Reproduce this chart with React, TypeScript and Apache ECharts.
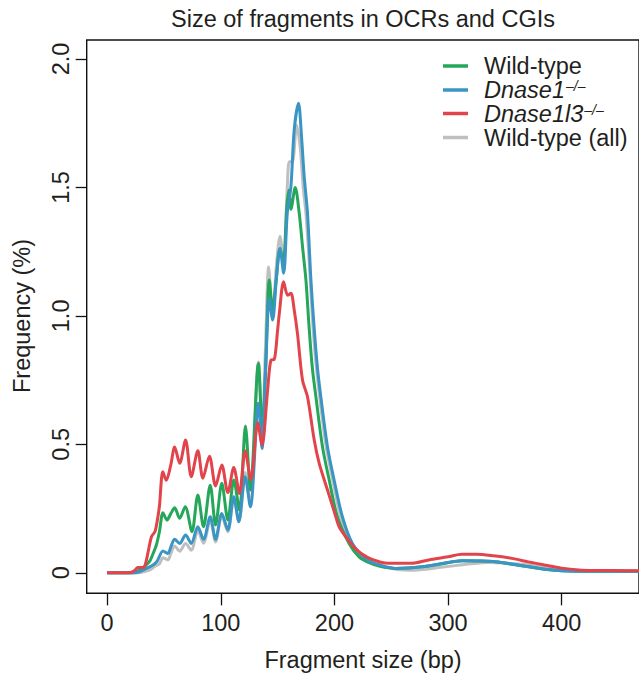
import React, { useEffect, useRef } from "react";
import * as echarts from "echarts";

// ---- data (fragment size in bp, frequency in %) ----
const wildType: [number, number][] = [
  [0, 0], [22, 0], [26, 0.005], [29, 0.012], [33, 0.025], [37.5, 0.045], [40, 0.07], [43.3, 0.108], [46, 0.16],
  [49.1, 0.234], [52.6, 0.205], [56, 0.23], [59.4, 0.253], [63.8, 0.212], [68.7, 0.257], [74.6, 0.16],
  [79.8, 0.303], [84.8, 0.179], [90.7, 0.341], [95.4, 0.186], [100.9, 0.348], [106.2, 0.205], [111.4, 0.361],
  [116.4, 0.244], [121.7, 0.571], [126, 0.322], [133.1, 0.815], [136.5, 0.55], [139.5, 0.8], [142.7, 1.14],
  [145.6, 1.023], [148.5, 1.13], [152, 1.26], [155, 1.21], [158, 1.42], [160, 1.49], [161.7, 1.415],
  [165.5, 1.5], [169, 1.4], [171.9, 1.27], [174.9, 1.14], [177.8, 0.95], [180.5, 0.8], [183.7, 0.685],
  [189.5, 0.49], [195.4, 0.361], [202.6, 0.218], [212.9, 0.114], [221.7, 0.062], [230, 0.04], [240, 0.025],
  [254, 0.017], [277, 0.023], [295, 0.035], [312, 0.047], [330, 0.046], [342, 0.043], [356, 0.033],
  [371, 0.023], [385, 0.014], [400, 0.008], [430, 0.006], [470, 0.006],
];

const dnase1: [number, number][] = [
  [0, 0], [25, 0], [31.6, 0.01], [36, 0.02], [40.4, 0.03], [44, 0.045], [49.1, 0.085], [53.5, 0.075],
  [56, 0.1], [59.4, 0.13], [63.8, 0.114], [69, 0.147], [74, 0.114], [79.8, 0.179], [84.8, 0.13],
  [90.7, 0.218], [95.4, 0.13], [100.9, 0.231], [106.2, 0.166], [111.4, 0.296], [115.8, 0.199],
  [121.4, 0.374], [126, 0.257], [133.1, 0.66], [136.3, 0.484], [139.5, 0.8], [142.7, 1.068],
  [145.6, 0.984], [149, 1.15], [152.1, 1.263], [155.3, 1.166], [158.5, 1.4], [161.7, 1.503],
  [164.6, 1.724], [168.4, 1.828], [171, 1.7], [173.4, 1.542], [176.3, 1.4], [179.3, 1.14], [182.2, 0.95],
  [185, 0.8], [188, 0.685], [193.9, 0.49], [199.7, 0.361], [207, 0.218], [215.8, 0.114], [229, 0.05],
  [240, 0.03], [253.9, 0.017], [277, 0.023], [295, 0.036], [312.3, 0.047], [330, 0.046], [341.6, 0.043],
  [356, 0.034], [370.8, 0.023], [385, 0.014], [400, 0.008], [430, 0.006], [470, 0.006],
];

const dnase1l3: [number, number][] = [
  [0, 0], [20, 0], [24, 0.008], [27, 0.02], [30, 0.02], [33, 0.025], [36, 0.08], [39, 0.14], [42, 0.16],
  [44, 0.2], [46, 0.26], [49, 0.393], [52, 0.36], [56, 0.42], [59.4, 0.49], [63.8, 0.426], [69, 0.517],
  [74, 0.374], [79.8, 0.475], [84.2, 0.368], [90, 0.454], [95.4, 0.338], [100.9, 0.419], [106.2, 0.312],
  [111.4, 0.41], [116.4, 0.309], [121.4, 0.474], [126.5, 0.362], [132.5, 0.584], [136.3, 0.497],
  [141.2, 0.711], [144.2, 0.828], [147, 0.83], [150, 0.945], [151.5, 1.01], [155.3, 1.133], [158.8, 1.08],
  [161.7, 1.088], [164.6, 1.023], [167.5, 0.93], [171.9, 0.75], [176.3, 0.685], [182.2, 0.517],
  [186.6, 0.426], [193.9, 0.322], [201.2, 0.218], [204, 0.18], [210, 0.14], [218.8, 0.092], [229, 0.06],
  [240, 0.042], [248, 0.037], [268, 0.037], [283, 0.05], [300, 0.062], [312, 0.072], [325, 0.072],
  [340, 0.066], [356, 0.056], [370, 0.043], [385, 0.03], [400, 0.018], [415, 0.011], [430, 0.009],
  [458, 0.008], [470, 0.008],
];

const wildTypeAll: [number, number][] = [
  [0, 0], [28, 0], [33, 0.005], [38, 0.012], [42, 0.025], [46, 0.035], [49.1, 0.058], [53.5, 0.05],
  [56, 0.075], [59.4, 0.104], [63.8, 0.084], [69, 0.114], [74, 0.088], [79.8, 0.165], [84.8, 0.115],
  [90.7, 0.205], [95.4, 0.12], [100.9, 0.22], [106.2, 0.16], [111.4, 0.29], [116, 0.2], [121.4, 0.39],
  [126, 0.27], [133.1, 0.82], [136.3, 0.55], [139.5, 0.9], [142.1, 1.19], [145.6, 1.0], [149, 1.2],
  [152.1, 1.31], [155.3, 1.2], [158.5, 1.5], [160.3, 1.6], [163, 1.6], [166.7, 1.743], [170, 1.65],
  [172.5, 1.5], [174.9, 1.4], [177.8, 1.21], [180.5, 1.0], [183, 0.85], [187, 0.685], [192.7, 0.49],
  [198.5, 0.361], [205.5, 0.218], [214.5, 0.114], [227, 0.05], [240, 0.028], [255, 0.013], [270, 0.01],
  [297, 0.023], [320, 0.035], [336, 0.04], [350, 0.038], [371, 0.03], [390, 0.018], [410, 0.01],
  [440, 0.007], [470, 0.006],
];

const xTicks = [0, 100, 200, 300, 400];
const yTicks = [0, 0.5, 1, 1.5, 2];
const yTickLabels = ["0", "0.5", "1.0", "1.5", "2.0"];

const COLORS = {
  wt: "#25a75a",
  d1: "#3a95c4",
  d1l3: "#e2444b",
  all: "#bfbfbf",
};

const FONT = "'Liberation Sans', Arial, Helvetica, sans-serif";
const TXT = "#231f20";
const FS = 23.5;

export default function App() {
  const ref = useRef<HTMLDivElement>(null);

  useEffect(() => {
    if (!ref.current) return;
    const chart = echarts.init(ref.current, undefined, { renderer: "svg" });

    const lineSeries = (name: string, data: [number, number][], color: string) => ({
      type: "line",
      name,
      data,
      showSymbol: false,
      smooth: 0.3,
      lineStyle: { color, width: 3 },
      itemStyle: { color },
      emphasis: { disabled: true },
    });

    const legendRows = [
      { color: COLORS.wt, text: "{n|Wild-type}", y: 66 },
      { color: COLORS.d1, text: "{i|Dnase1}{s|–/–}", y: 90 },
      { color: COLORS.d1l3, text: "{i|Dnase1l3}{s|–/–}", y: 113.5 },
      { color: COLORS.all, text: "{n|Wild-type (all)}", y: 137.5 },
    ];
    const rich = {
      n: { fontSize: FS, lineHeight: 22, fontFamily: FONT, color: TXT },
      i: { fontSize: FS, lineHeight: 22, fontFamily: FONT, fontStyle: "italic", color: TXT },
      s: { fontSize: 14, lineHeight: 14, fontFamily: FONT, fontStyle: "italic", color: TXT, verticalAlign: "top", padding: [0, 0, 7, 1] },
    };

    const graphic: any[] = [
      {
        type: "text",
        x: 363,
        y: 19,
        style: { text: "Size of fragments in OCRs and CGIs", font: `${FS}px ${FONT}`, fill: TXT, align: "center", verticalAlign: "middle" },
      },
      {
        type: "text",
        x: 363,
        y: 660,
        style: { text: "Fragment size (bp)", font: `${FS}px ${FONT}`, fill: TXT, align: "center", verticalAlign: "middle" },
      },
      {
        type: "text",
        x: 22,
        y: 316,
        rotation: Math.PI / 2,
        style: { text: "Frequency (%)", font: `${FS}px ${FONT}`, fill: TXT, align: "center", verticalAlign: "middle" },
      },
    ];
    legendRows.forEach((r) => {
      graphic.push({
        type: "line",
        shape: { x1: 443, y1: r.y, x2: 468, y2: r.y },
        style: { stroke: r.color, lineWidth: 3.5 },
      });
      graphic.push({
        type: "text",
        x: 484,
        y: r.y,
        style: { text: r.text, rich, align: "left", verticalAlign: "middle", fill: TXT },
      });
    });

    chart.setOption({
      animation: false,
      backgroundColor: "#ffffff",
      grid: {
        left: 86.7,
        top: 40,
        width: 554,
        height: 553.3,
        show: true,
        borderColor: "#111",
        borderWidth: 1.4,
        containLabel: false,
      },
      xAxis: {
        type: "value",
        min: -18,
        max: 468,
        axisLine: { show: false, onZero: false },
        splitLine: { show: false },
        axisTick: { show: true, customValues: xTicks, length: 12, lineStyle: { color: "#111", width: 1.3 } },
        axisLabel: {
          customValues: xTicks,
          margin: 18,
          fontSize: FS,
          fontFamily: FONT,
          color: TXT,
        },
      },
      yAxis: {
        type: "value",
        min: -0.08,
        max: 2.074,
        axisLine: { show: false, onZero: false },
        splitLine: { show: false },
        axisTick: { show: true, customValues: yTicks, length: 11, lineStyle: { color: "#111", width: 1.3 } },
        axisLabel: {
          customValues: yTicks,
          rotate: 90,
          margin: 14,
          fontSize: FS,
          fontFamily: FONT,
          color: TXT,
          formatter: (v: number) => {
            const idx = yTicks.indexOf(v);
            return idx >= 0 ? yTickLabels[idx] : "";
          },
        },
      },
      series: [
        lineSeries("Wild-type (all)", wildTypeAll, COLORS.all),
        lineSeries("Wild-type", wildType, COLORS.wt),
        lineSeries("Dnase1-/-", dnase1, COLORS.d1),
        lineSeries("Dnase1l3-/-", dnase1l3, COLORS.d1l3),
      ],
      graphic,
    });

    return () => chart.dispose();
  }, []);

  return (
    <div style={{ position: "fixed", left: 0, top: 0, width: 639, height: 677, background: "#fff" }}>
      <div ref={ref} style={{ width: 639, height: 677 }} />
    </div>
  );
}
